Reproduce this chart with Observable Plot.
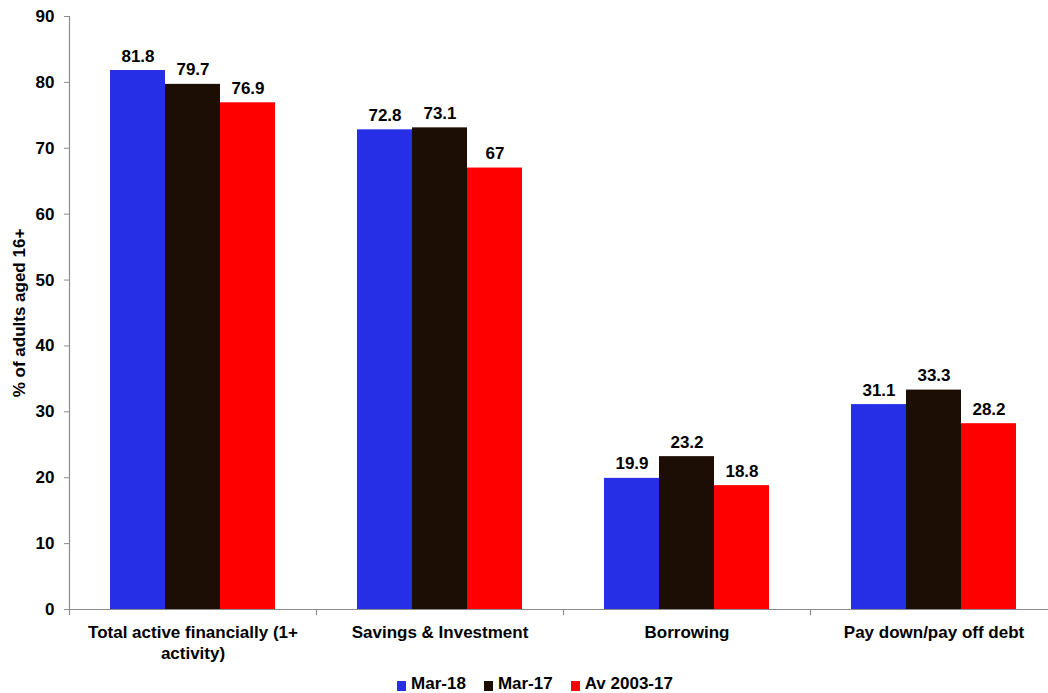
<!DOCTYPE html>
<html>
<head>
<meta charset="utf-8">
<script src="https://cdn.jsdelivr.net/npm/d3@7"></script>
<script src="https://cdn.jsdelivr.net/npm/@observablehq/plot@0.6"></script>
<style>
  html, body { margin: 0; padding: 0; background: #fff; overflow: hidden; }
  #chart { width: 1048px; font-family: "Liberation Sans", Arial, sans-serif; }
  .legend { display: flex; justify-content: center; align-items: center; padding: 5px 0 0 22px;
            font: bold 17px "Liberation Sans", Arial, sans-serif; line-height: 22px; }
  .legend .item { display: flex; align-items: center; margin: 0 9px; }
  .legend .swatch { width: 9px; height: 10px; margin-right: 5px; margin-top: 3px; }
</style>
</head>
<body>
<div id="chart"></div>
<script>
// Financial activity of adults aged 16+, by type
const categories = [
  "Total active financially (1+ activity)",
  "Savings & Investment",
  "Borrowing",
  "Pay down/pay off debt"
];
const series = ["Mar-18", "Mar-17", "Av 2003-17"];
const mar18 = [81.8, 72.8, 19.9, 31.1];
const mar17 = [79.7, 73.1, 23.2, 33.3];
const av2003_17 = [76.9, 67, 18.8, 28.2];
const seriesColors = ["#262ee6", "#1c0d05", "#ff0000"];
const yTicks = [0, 10, 20, 30, 40, 50, 60, 70, 80, 90];
const yLabel = "% of adults aged 16+";

const seriesValues = [mar18, mar17, av2003_17];
const rows = categories.flatMap((category, i) =>
  series.map((s, j) => ({category, series: s, value: seriesValues[j][i]}))
);

// break the long first category label over two lines
const wrapLabel = (d) => d.replace("(1+ activity)", "(1+\nactivity)");

const font = {fontFamily: "Liberation Sans, Arial, sans-serif", fontWeight: "bold", fontSize: 17};
const axisGrey = "#8c8c8c";

const chart = Plot.plot({
  width: 1048,
  height: 668,
  marginLeft: 69,
  marginRight: -9,
  marginTop: 16,
  marginBottom: 59,
  style: {fontFamily: font.fontFamily, color: "#000", overflow: "visible"},
  fx: {domain: categories, padding: 0, label: null},
  x: {domain: series, paddingInner: 0, paddingOuter: 0.745, axis: null},
  y: {domain: [0, 90], label: null},
  color: {domain: series, range: seriesColors},
  marks: [
    Plot.barY(rows, {fx: "category", x: "series", y: "value", fill: "series"}),
    Plot.text(rows, {
      fx: "category", x: "series", y: "value",
      text: (d) => String(d.value),
      lineAnchor: "bottom", dy: -9,
      fill: "#000", ...font
    }),
    // baseline along the bottom of the plot
    Plot.ruleY([0], {stroke: axisGrey, strokeWidth: 1.2}),
    // vertical axis line (leftmost facet only)
    Plot.frame({anchor: "left", facetAnchor: "left", stroke: axisGrey, strokeWidth: 1.2}),
    // small ticks at the boundaries between category groups
    Plot.frame({anchor: "left", stroke: axisGrey, strokeWidth: 1.2, insetTop: 593, insetBottom: -5}),
    Plot.axisY({
      ticks: yTicks, tickSize: 5, tickPadding: 10, stroke: axisGrey, fill: "#000",
      ...font,
      label: yLabel, labelAnchor: "center", labelArrow: "none", labelOffset: 57
    }),
    Plot.axisFx({
      anchor: "bottom", tickSize: 0, tickPadding: 13, fill: "#000",
      tickFormat: wrapLabel, lineHeight: 1.25, ...font, label: null
    })
  ]
});

const root = document.getElementById("chart");
root.appendChild(chart);

// legend below the plot
const legend = document.createElement("div");
legend.className = "legend";
series.forEach((s, i) => {
  const item = document.createElement("div");
  item.className = "item";
  const sw = document.createElement("span");
  sw.className = "swatch";
  sw.style.background = seriesColors[i];
  const label = document.createElement("span");
  label.textContent = s;
  item.append(sw, label);
  legend.appendChild(item);
});
root.appendChild(legend);
</script>
</body>
</html>
